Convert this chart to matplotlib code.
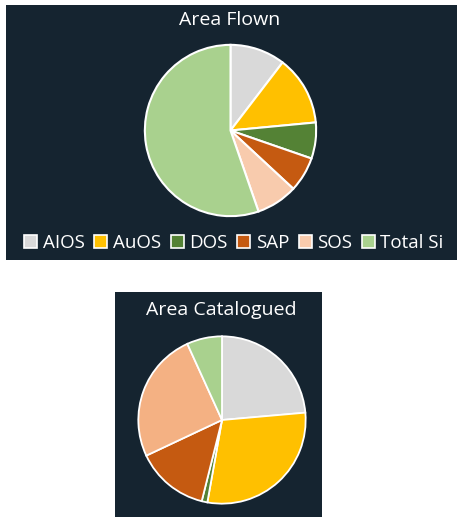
import matplotlib.pyplot as plt
from matplotlib.patches import Rectangle

# data
labels = ["AIOS", "AuOS", "DOS", "SAP", "SOS", "Total Si"]
flown = [10.4, 13.1, 6.8, 6.6, 7.8, 55.3]
catalogued = [23.6, 29.2, 1.1, 14.1, 25.2, 6.8]

colors_flown = ["#D9D9D9", "#FFC000", "#548235", "#C55A11", "#F8CBAD", "#A9D18E"]
colors_cat = ["#D9D9D9", "#FFC000", "#548235", "#C55A11", "#F4B183", "#A9D18E"]

BG = "#152430"
W, H = 458, 517

plt.rcParams['font.family'] = ['Open Sans', 'DejaVu Sans']


def px_box(x0, y0, x1, y1):
    # pixel coords (top-left origin) -> figure fraction rect
    return [x0 / W, 1 - y1 / H, (x1 - x0) / W, (y1 - y0) / H]


def pie_axes(fig, cx, cy, r):
    ax = fig.add_axes(px_box(cx - r, cy - r, cx + r, cy + r))
    ax.set_axis_off()
    ax.set_zorder(2)
    return ax


def main():
    fig = plt.figure(figsize=(W / 100, H / 100), dpi=100)
    fig.patch.set_facecolor("white")

    for x0, y0, x1, y1 in [(6, 5, 457, 260), (115, 292, 322, 517)]:
        b = px_box(x0, y0, x1, y1)
        fig.patches.append(Rectangle((b[0], b[1]), b[2], b[3], transform=fig.transFigure,
                                     facecolor=BG, edgecolor="none", zorder=-1))

    ax1 = pie_axes(fig, 230.5, 130.5, 86.5)
    wedges, _ = ax1.pie(flown, colors=colors_flown, startangle=90, counterclock=False,
                        wedgeprops=dict(edgecolor="white", linewidth=1.5))
    ax1.set_xlim(-1.01, 1.01)
    ax1.set_ylim(-1.01, 1.01)

    ax2 = pie_axes(fig, 222, 420, 84.5)
    ax2.pie(catalogued, colors=colors_cat, startangle=90, counterclock=False,
            wedgeprops=dict(edgecolor="white", linewidth=1.3))
    ax2.set_xlim(-1.01, 1.01)
    ax2.set_ylim(-1.01, 1.01)

    fig.text(230 / W, 1 - 20 / H, "Area Flown", color="white", fontsize=14,
             ha="center", va="center", zorder=3)
    fig.text(221.5 / W, 1 - 310 / H, "Area Catalogued", color="white", fontsize=14,
             ha="center", va="center", zorder=3)

    leg = fig.legend(wedges, labels, loc="center", bbox_to_anchor=(234 / W, 1 - 243 / H),
                     ncol=6, frameon=False, fontsize=13.5, labelcolor="white",
                     handlelength=0.7, handleheight=0.7, handletextpad=0.3,
                     columnspacing=0.5, borderpad=0)
    leg.set_zorder(3)
    for h in leg.legend_handles:
        h.set_edgecolor("white")
        h.set_linewidth(1.2)

    fig.savefig("out.png", dpi=100, facecolor=fig.get_facecolor())


if __name__ == "__main__":
    main()
